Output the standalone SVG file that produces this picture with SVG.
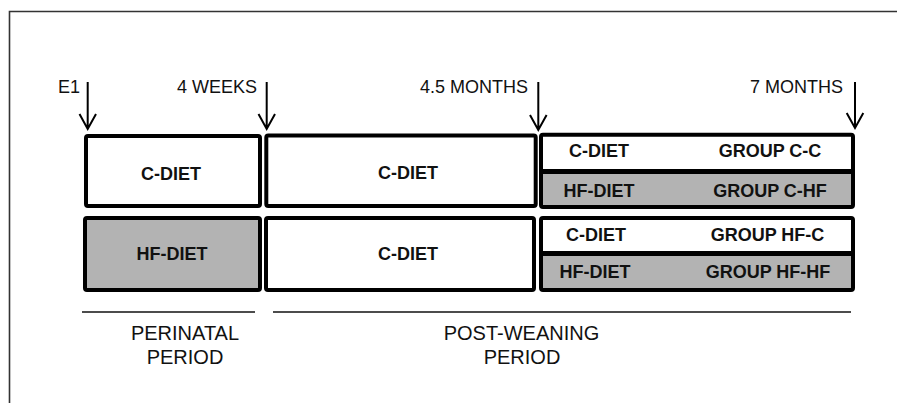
<svg xmlns="http://www.w3.org/2000/svg" width="897" height="403" viewBox="0 0 897 403">
<style>
.box{stroke:#000;stroke-width:4;stroke-linejoin:round}
.w{fill:#fff}
.g{fill:#b3b3b3}
.bt{font-family:"Liberation Sans",Arial,sans-serif;font-weight:bold;font-size:18px;text-anchor:middle;fill:#111}
.lt{font-family:"Liberation Sans",Arial,sans-serif;font-size:18px;fill:#111}
.pt{font-family:"Liberation Sans",Arial,sans-serif;font-size:20px;text-anchor:middle;fill:#111}
.ar{stroke:#000;stroke-width:2;fill:none}
.ln{stroke:#111;stroke-width:1.5}
</style>
<rect width="897" height="403" fill="#fff"/>
<path d="M9.5 403 V11.5 H897" fill="none" stroke="#333" stroke-width="1.6"/>
<g id="connectors">
<g class="ar">
<path d="M87.7 82 V129 M79.5 114 L87.7 129 L96 114"/>
<path d="M266.7 82 V129 M258.5 114 L266.7 129 L275 114"/>
<path d="M538.3 82 V130 M530 115 L538.3 130 L546.6 115"/>
<path d="M855 82 V128 M846.7 113 L855 128 L863.3 113"/>
</g>
<line class="ln" x1="82" y1="312" x2="255" y2="312"/>
<line class="ln" x1="273" y1="312" x2="851" y2="312"/>
</g>
<g id="labels">
<text class="lt" x="58" y="93">E1</text>
<text class="lt" x="257" y="93" text-anchor="end">4 WEEKS</text>
<text class="lt" x="528" y="92.5" text-anchor="end">4.5 MONTHS</text>
<text class="lt" x="843" y="92.5" text-anchor="end">7 MONTHS</text>
<text class="pt" x="185" y="340">PERINATAL</text>
<text class="pt" x="185" y="364">PERIOD</text>
<text class="pt" x="521.5" y="340">POST-WEANING</text>
<text class="pt" x="522" y="364">PERIOD</text>
</g>
<g id="perinatal-c">
<rect class="box w" x="86" y="136" width="174" height="70" rx="2"/>
<text class="bt" x="171" y="179.5">C-DIET</text>
</g>
<g id="postweaning-c-top">
<rect class="box w" x="266.3" y="135.5" width="269.4" height="70.5" rx="2"/>
<text class="bt" x="408" y="178.5">C-DIET</text>
</g>
<g id="perinatal-hf">
<rect class="box g" x="85" y="218" width="175" height="72" rx="2"/>
<text class="bt" x="172" y="259.5">HF-DIET</text>
</g>
<g id="postweaning-c-bottom">
<rect class="box w" x="266" y="218" width="268" height="72" rx="2"/>
<text class="bt" x="408" y="259.5">C-DIET</text>
</g>
<g id="groups-c">
<rect class="w" x="541" y="135" width="312" height="36"/>
<rect class="g" x="541" y="171" width="312" height="36"/>
<rect class="box" fill="none" x="541" y="134.7" width="312" height="72.3" rx="2"/>
<line x1="541" y1="171.5" x2="853" y2="171.5" stroke="#000" stroke-width="5"/>
<text class="bt" x="599" y="156.7">C-DIET</text>
<text class="bt" x="770" y="156.7">GROUP C-C</text>
<text class="bt" x="599" y="196.7">HF-DIET</text>
<text class="bt" x="770" y="196.7">GROUP C-HF</text>
</g>
<g id="groups-hf">
<rect class="w" x="541" y="218" width="312" height="35"/>
<rect class="g" x="541" y="253" width="312" height="37"/>
<rect class="box" fill="none" x="541" y="218" width="312" height="72" rx="2"/>
<line x1="541" y1="253.5" x2="853" y2="253.5" stroke="#000" stroke-width="5"/>
<text class="bt" x="596" y="240.7">C-DIET</text>
<text class="bt" x="767.5" y="240.7">GROUP HF-C</text>
<text class="bt" x="595" y="278.3">HF-DIET</text>
<text class="bt" x="768" y="278.3">GROUP HF-HF</text>
</g>
</svg>
